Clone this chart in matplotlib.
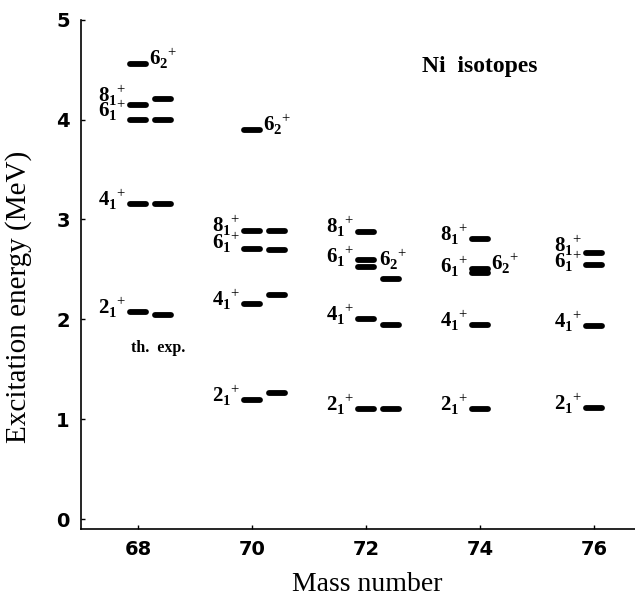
import numpy as np
import matplotlib.pyplot as plt

# masses and level energies (MeV), th = theory, exp = experiment
mass = [68, 70, 72, 74, 76]
th_68 = [2.07, 3.15, 4.00, 4.15, 4.56]
exp_68 = [2.04, 3.15, 4.00, 4.21]
th_70 = [1.19, 2.15, 2.70, 2.885, 3.90]
exp_70 = [1.26, 2.24, 2.69, 2.88]
th_72 = [1.10, 2.00, 2.52, 2.59, 2.875]
exp_72 = [1.10, 1.94, 2.40]
th_74 = [1.10, 1.94, 2.46, 2.50, 2.80]
exp_74 = []
th_76 = [1.11, 1.93, 2.54, 2.66]
exp_76 = []

th_levels = [th_68, th_70, th_72, th_74, th_76]
exp_levels = [exp_68, exp_70, exp_72, exp_74, exp_76]

# level labels: (mass, energy, spin label, side)
lab_mass = [68, 68, 68, 68, 68,
            70, 70, 70, 70, 70,
            72, 72, 72, 72, 72,
            74, 74, 74, 74, 74,
            76, 76, 76, 76]
lab_energy = [4.56, 4.19, 4.04, 3.15, 2.07,
              3.90, 2.89, 2.72, 2.15, 1.19,
              2.875, 2.58, 2.53, 2.00, 1.10,
              2.80, 2.48, 2.51, 1.94, 1.10,
              2.69, 2.53, 1.93, 1.11]
lab_text = ['6_2', '8_1', '6_1', '4_1', '2_1',
            '6_2', '8_1', '6_1', '4_1', '2_1',
            '8_1', '6_1', '6_2', '4_1', '2_1',
            '8_1', '6_1', '6_2', '4_1', '2_1',
            '8_1', '6_1', '4_1', '2_1']
lab_side = ['r', 'l', 'l', 'l', 'l',
            'r', 'l', 'l', 'l', 'l',
            'l', 'l', 'm', 'l', 'l',
            'l', 'l', 'r', 'l', 'l',
            'l', 'l', 'l', 'l']

plt.rcParams['mathtext.fontset'] = 'custom'
plt.rcParams['mathtext.rm'] = 'Liberation Serif'
plt.rcParams['mathtext.bf'] = 'Liberation Serif:bold'

fig = plt.figure(figsize=(6.35, 6.07), dpi=100)
ax = fig.add_axes([0.1276, 0.1285, 0.8724, 0.839])

half = 0.145      # half length of a level bar
dx_exp = 0.44     # offset of experimental column
for A, th, ex in zip(mass, th_levels, exp_levels):
    for e in th:
        ax.plot([A - half, A + half], [e, e], color='black', lw=4.2,
                solid_capstyle='round')
    for e in ex:
        ax.plot([A + dx_exp - half, A + dx_exp + half], [e, e], color='black',
                lw=4.2, solid_capstyle='round')

for A, e, t, s in zip(lab_mass, lab_energy, lab_text, lab_side):
    n, k = t.split('_')
    txt = r'$\mathbf{' + n + r'}_\mathbf{' + k + r'}{}^{+}$'
    if s == 'l':
        ax.text(A - 0.2, e + 0.05, txt, ha='right', va='center', fontsize=15)
    elif s == 'r':
        ax.text(A + 0.2, e + 0.05, txt, ha='left', va='center', fontsize=15)
    else:
        ax.text(A + 0.22, e + 0.07, txt, ha='left', va='center', fontsize=15)

ax.text(68.36, 1.71, 'th.  exp.', ha='center', va='center', fontsize=11.5,
        fontweight='bold', family='Liberation Serif')
ax.text(74.0, 4.53, 'Ni  isotopes', ha='center', va='center', fontsize=17,
        fontweight='bold', family='Liberation Serif')

ax.set_xlim(67.0, 76.72)
ax.set_ylim(-0.1, 4.95)
ax.set_xticks(mass)
ax.set_yticks([0, 1, 2, 3, 4, 5])
ax.spines['top'].set_visible(False)
ax.spines['right'].set_visible(False)
ax.spines['left'].set_linewidth(1.2)
ax.spines['bottom'].set_linewidth(1.2)
ax.tick_params(direction='in', length=3, width=1, labelsize=14, pad=8)
for lbl in ax.get_xticklabels() + ax.get_yticklabels():
    lbl.set_fontweight('bold')
ax.set_xlabel('Mass number', family='Liberation Serif', fontsize=20)
ax.set_ylabel('Excitation energy (MeV)', family='Liberation Serif', fontsize=21)
ax.xaxis.set_label_coords(0.516, -0.084)
ax.yaxis.set_label_coords(-0.088, 0.456)

fig.savefig('out.png', dpi=100)
